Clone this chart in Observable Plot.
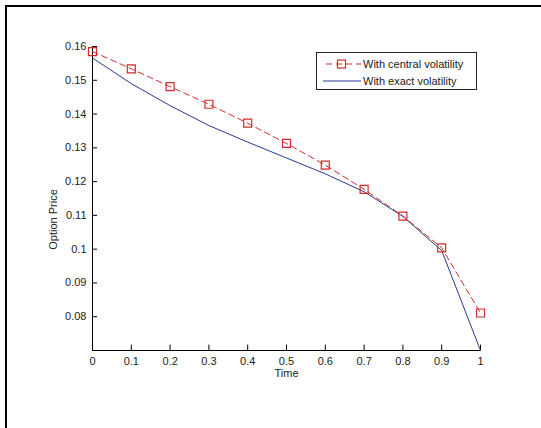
<!DOCTYPE html>
<html>
<head>
<meta charset="utf-8">
<script src="https://cdn.jsdelivr.net/npm/d3@7"></script>
<script src="https://cdn.jsdelivr.net/npm/@observablehq/plot@0.6"></script>
<style>
  html, body { margin: 0; padding: 0; background: #fff; overflow: hidden; }
  #wrap { position: relative; width: 541px; height: 428px; overflow: hidden; font-family: "Liberation Sans", Arial, sans-serif; }
  #wrap svg { display: block; }
  .frameL { position: absolute; left: 5px; top: 5px; width: 2px; height: 423px; background: #000; }
  .frameT { position: absolute; left: 5px; top: 5px; width: 536px; height: 2px; background: #000; }
  #legend { position: absolute; left: 316px; top: 52px; width: 159px; height: 36px; border: 1px solid #222; background: #fff; font-size: 11px; color: #222; }
  #legend .row { position: absolute; left: 0; height: 14px; display: flex; align-items: center; }
</style>
</head>
<body>
<div id="wrap"></div>
<script>
const times = [0, 0.1, 0.2, 0.3, 0.4, 0.5, 0.6, 0.7, 0.8, 0.9, 1.0];
const centralVol = [0.1585, 0.1534, 0.1481, 0.1429, 0.1373, 0.1313, 0.1249, 0.1177, 0.1098, 0.1004, 0.0811];
const exactVol   = [0.1566, 0.1490, 0.1425, 0.1366, 0.1317, 0.1270, 0.1223, 0.1170, 0.1097, 0.0996, 0.0700];
const xTicks = [0, 0.1, 0.2, 0.3, 0.4, 0.5, 0.6, 0.7, 0.8, 0.9, 1];
const xTickLabels = ["0", "0.1", "0.2", "0.3", "0.4", "0.5", "0.6", "0.7", "0.8", "0.9", "1"];
const yTicks = [0.08, 0.09, 0.1, 0.11, 0.12, 0.13, 0.14, 0.15, 0.16];
const yTickLabels = ["0.08", "0.09", "0.1", "0.11", "0.12", "0.13", "0.14", "0.15", "0.16"];
const seriesNames = ["With central volatility", "With exact volatility"];

const red = "#d42a2a";
const blue = "#2b3796";
const yMin = 0.07, yMax = 0.16;

const central = times.map((t, i) => ({t, v: centralVol[i]}));
const exact = times.map((t, i) => ({t, v: exactVol[i]}));
const xt = xTicks.map((t, i) => ({t, label: xTickLabels[i]}));
const yt = yTicks.map((v, i) => ({v, label: yTickLabels[i]}));

const chart = Plot.plot({
  width: 541,
  height: 428,
  marginLeft: 92,
  marginRight: 61,
  marginTop: 46,
  marginBottom: 78,
  style: { fontFamily: "Liberation Sans, Arial, sans-serif", fontSize: "11px", color: "#222", background: "transparent" },
  x: { domain: [0, 1], axis: null },
  y: { domain: [yMin, yMax], axis: null },
  marks: [
    Plot.ruleX([0], { y1: yMin, y2: yMax, stroke: "#000", strokeWidth: 1 }),
    Plot.ruleY([yMin], { x1: 0, x2: 1, stroke: "#000", strokeWidth: 1 }),
    Plot.ruleY(yt, { y: "v", x1: 0, x2: 0.013, stroke: "#000" }),
    Plot.ruleX(xt, { x: "t", y1: yMin, y2: yMin + 0.0016, stroke: "#000" }),
    Plot.text(yt, { x: 0, y: "v", text: "label", textAnchor: "end", dx: -6, fill: "#222" }),
    Plot.text(xt, { x: "t", y: yMin, text: "label", dy: 11, fill: "#222" }),
    Plot.text(["Time"], { frameAnchor: "bottom", text: d => d, textAnchor: "middle", dy: 26, fill: "#222" }),
    Plot.text(["Option Price"], { frameAnchor: "left", text: d => d, textAnchor: "middle", dx: -39, dy: 21, rotate: -90, fill: "#222" }),
    Plot.line(exact, { x: "t", y: "v", stroke: blue, strokeWidth: 1 }),
    Plot.line(central, { x: "t", y: "v", stroke: red, strokeWidth: 1, strokeDasharray: "6,4" }),
    Plot.dot(central, { x: "t", y: "v", symbol: "square", r: 4.5, stroke: red, strokeWidth: 1.2, fill: "none" })
  ]
});

const wrap = document.getElementById("wrap");
wrap.appendChild(chart);
const fl = document.createElement("div"); fl.className = "frameL"; wrap.appendChild(fl);
const ft = document.createElement("div"); ft.className = "frameT"; wrap.appendChild(ft);

const legend = document.createElement("div");
legend.id = "legend";
legend.innerHTML = `
  <div class="row" style="top:4px;">
    <svg width="46" height="14" style="display:block"><line x1="9" y1="7" x2="44" y2="7" stroke="${red}" stroke-width="1" stroke-dasharray="6,4"/><rect x="20.5" y="3" width="8" height="8" fill="none" stroke="${red}" stroke-width="1.2"/></svg>
    <span>${seriesNames[0]}</span>
  </div>
  <div class="row" style="top:21px;">
    <svg width="46" height="14" style="display:block"><line x1="6" y1="7" x2="44" y2="7" stroke="${blue}" stroke-width="1"/></svg>
    <span>${seriesNames[1]}</span>
  </div>`;
wrap.appendChild(legend);
</script>
</body>
</html>
